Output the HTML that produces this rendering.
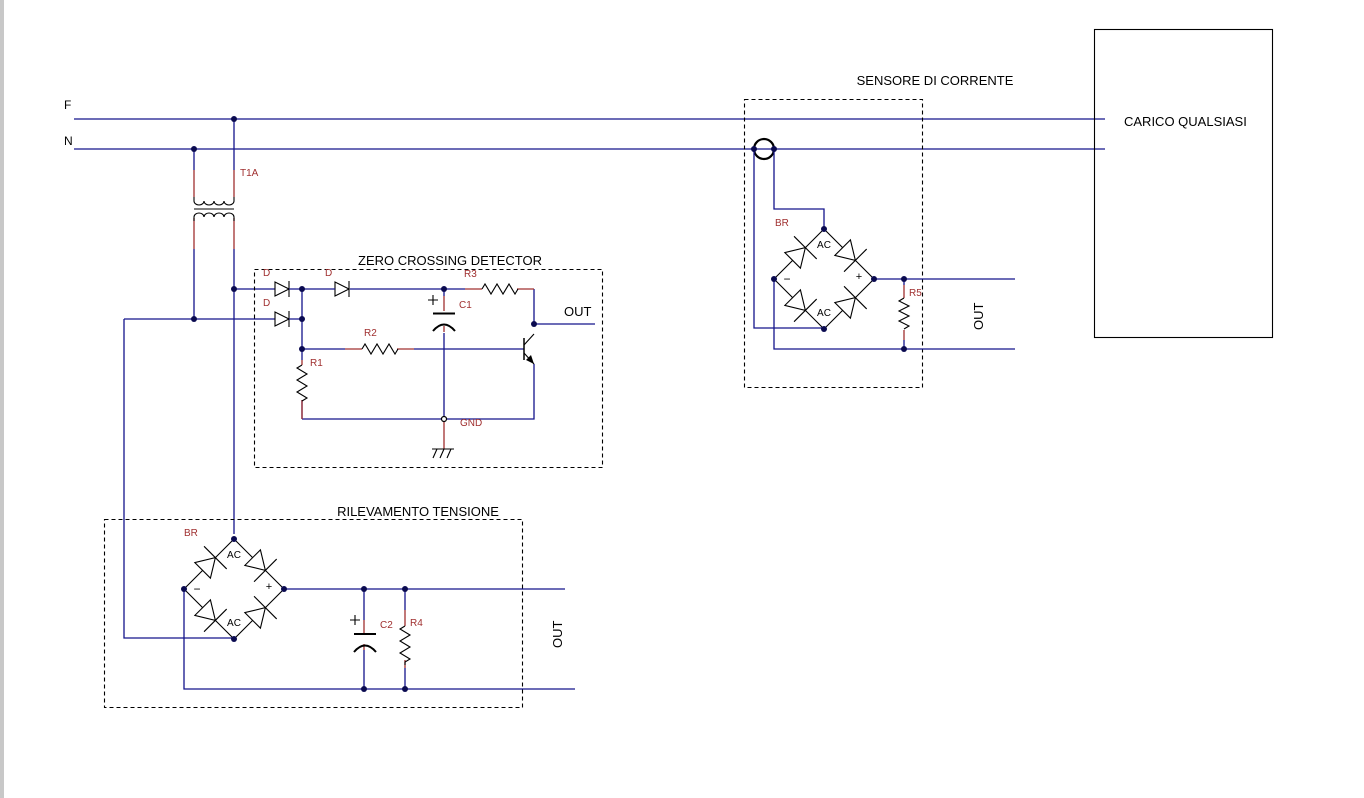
<!DOCTYPE html>
<html><head><meta charset="utf-8"><style>
html,body{margin:0;padding:0;background:#fff;}
svg{display:block;}
text{font-family:"Liberation Sans",Arial,sans-serif;}
.w{stroke:#14148c;stroke-width:1.3;fill:none;}
.r{stroke:#a03030;stroke-width:1.3;fill:none;}
.k{stroke:#000;stroke-width:1.1;fill:none;}
.d{stroke:#000;stroke-width:1.1;fill:none;stroke-dasharray:4,3;}
.lbl{fill:#a03030;font-size:10px;}
.t{fill:#000;font-size:13px;}
.dot{fill:#0a0a50;}
</style></head><body>
<svg width="1364" height="798" viewBox="0 0 1364 798" xmlns="http://www.w3.org/2000/svg">
<defs>
<g id="dio"><polygon points="-9,-11 -9,11 9,0" fill="#fff" stroke="#000" stroke-width="1.1"/><line x1="9" y1="-16" x2="9" y2="16" stroke="#000" stroke-width="1.1"/></g>
<g id="hd"><polygon points="-7,-7 -7,7 7,0" fill="#fff" stroke="#000" stroke-width="1.1"/><line x1="7" y1="-8" x2="7" y2="8" stroke="#000" stroke-width="1.1"/></g>
<g id="bridge">
<path class="k" d="M0,-50 L50,0 L0,50 L-50,0 Z"/>
<use href="#dio" transform="translate(-25,-25) rotate(-45)"/>
<use href="#dio" transform="translate(25,-25) rotate(45)"/>
<use href="#dio" transform="translate(-25,25) rotate(45)"/>
<use href="#dio" transform="translate(25,25) rotate(-45)"/>
<text x="0" y="-31" font-size="10" text-anchor="middle" fill="#000">AC</text>
<text x="0" y="37" font-size="10" text-anchor="middle" fill="#000">AC</text>
<text x="-37" y="4" font-size="12" text-anchor="middle" fill="#000">−</text>
<text x="35" y="1" font-size="11" text-anchor="middle" fill="#000">+</text>
</g>
</defs>
<rect x="0" y="0" width="4" height="798" fill="#c8c8c8"/>

<text x="64" y="109" class="t" style="font-size:12px">F</text>
<text x="64" y="145" class="t" style="font-size:12px">N</text>
<line class="w" x1="74" y1="119" x2="1105" y2="119"/>
<line class="w" x1="74" y1="149" x2="1105" y2="149"/>

<rect x="1094.5" y="29.5" width="178" height="308" class="k"/>
<text x="1124" y="126" class="t">CARICO QUALSIASI</text>

<path class="w" d="M194,149 V170 M234,119 V170"/>
<path class="r" d="M194,170 V197 M234,170 V197 M194,218 V249 M234,218 V249"/>
<path class="k" d="M194,197 v4 a5,4 0 0 0 10,0 a5,4 0 0 0 10,0 a5,4 0 0 0 10,0 a5,4 0 0 0 10,0 v-4"/>
<line class="k" x1="194" y1="209" x2="234" y2="209"/>
<path class="k" d="M194,221 v-4 a5,4 0 0 1 10,0 a5,4 0 0 1 10,0 a5,4 0 0 1 10,0 a5,4 0 0 1 10,0 v4"/>
<text x="240" y="176" class="lbl">T1A</text>
<path class="w" d="M194,249 V319 M234,249 V534 M124,319 H275 M124,319 V638 H234 M234,289 H275"/>
<circle class="dot" cx="234" cy="119" r="3"/><circle class="dot" cx="194" cy="149" r="3"/>
<circle class="dot" cx="234" cy="289" r="3"/><circle class="dot" cx="194" cy="319" r="3"/>

<rect x="254.5" y="269.5" width="348" height="198" class="d"/>
<text x="450" y="265" class="t" text-anchor="middle">ZERO CROSSING DETECTOR</text>
<text x="263" y="276" class="lbl">D</text><text x="325" y="276" class="lbl">D</text><text x="263" y="306" class="lbl">D</text>
<use href="#hd" transform="translate(282,289)"/>
<use href="#hd" transform="translate(282,319)"/>
<use href="#hd" transform="translate(342,289)"/>
<path class="w" d="M289,289 H335 M350,289 H465 M289,319 H302 M302,289 V349 M302,349 H345 M414,349 H524 M302,349 V360 M444,289 V296 M444,333 V419 M534,289 V324 H595 M534,364 V419 H302 M302,400 V419"/>
<path class="r" d="M465,289 H482 M517,289 H534 M345,349 H362 M397,349 H414 M302,360 V365 M302,400 V419 M444,296 V311 M444,326 V332 M444,419 V449"/>
<path class="k" d="M482,289 l3,-5 6,10 6,-10 6,10 6,-10 6,10 3,-5"/>
<path class="k" d="M362,349 l3,-5 6,10 6,-10 6,10 6,-10 6,10 3,-5"/>
<path class="k" d="M302,365 l-5,3 10,6 -10,6 10,6 -10,6 10,6 -5,3"/>
<line x1="433" y1="313.5" x2="455" y2="313.5" stroke="#000" stroke-width="2"/>
<path d="M433,331 Q444,318 455,331" stroke="#000" stroke-width="2" fill="none"/>
<path class="k" d="M428,300 h10 M433,295 v10"/>
<text x="459" y="308" class="lbl">C1</text>
<text x="464" y="277" class="lbl">R3</text>
<text x="364" y="336" class="lbl">R2</text>
<text x="310" y="366" class="lbl">R1</text>
<text x="460" y="426" class="lbl">GND</text>
<path class="k" d="M432,449 H454 M437,449 l-4,9 M444,449 l-4,9 M451,449 l-4,9"/>
<line x1="524" y1="338" x2="524" y2="360" stroke="#000" stroke-width="1.5"/>
<path class="k" d="M524,345 L534,334 M524,353 L534,364"/>
<polygon points="534,364 526,360 531,355" fill="#000"/>
<text x="564" y="316" class="t">OUT</text>
<circle class="dot" cx="302" cy="289" r="3"/><circle class="dot" cx="302" cy="319" r="3"/>
<circle class="dot" cx="302" cy="349" r="3"/><circle class="dot" cx="444" cy="289" r="3"/>
<circle class="dot" cx="534" cy="324" r="3"/>
<circle cx="444" cy="419" r="2.5" fill="#fff" stroke="#000" stroke-width="1.2"/>

<rect x="104.5" y="519.5" width="418" height="188" class="d"/>
<text x="418" y="516" class="t" text-anchor="middle">RILEVAMENTO TENSIONE</text>
<text x="184" y="536" class="lbl">BR</text>
<use href="#bridge" transform="translate(234,589)"/>
<path class="w" d="M284,589 H565 M184,589 V689 H575 M364,589 V620 M364,650 V689 M405,589 V610 M405,668 V689"/>
<path class="r" d="M364,620 V633 M364,644 V650 M405,610 V626 M405,660 V668"/>
<line x1="354" y1="634" x2="376" y2="634" stroke="#000" stroke-width="2"/>
<path d="M354,652 Q365,639 376,652" stroke="#000" stroke-width="2" fill="none"/>
<path class="k" d="M350,620 h10 M355,615 v10"/>
<path class="k" d="M405,626 l-5,3 10,6 -10,6 10,6 -10,6 10,6 -5,3 v3"/>
<text x="380" y="628" class="lbl">C2</text>
<text x="410" y="626" class="lbl">R4</text>
<text transform="translate(562,648) rotate(-90)" class="t">OUT</text>
<circle class="dot" cx="234" cy="539" r="3"/><circle class="dot" cx="234" cy="639" r="3"/>
<circle class="dot" cx="184" cy="589" r="3"/><circle class="dot" cx="284" cy="589" r="3"/>
<circle class="dot" cx="364" cy="589" r="3"/><circle class="dot" cx="405" cy="589" r="3"/>
<circle class="dot" cx="364" cy="689" r="3"/><circle class="dot" cx="405" cy="689" r="3"/>

<rect x="744.5" y="99.5" width="178" height="288" class="d"/>
<text x="935" y="85" class="t" text-anchor="middle">SENSORE DI CORRENTE</text>
<circle cx="764" cy="149" r="10" fill="none" stroke="#000" stroke-width="2.2"/>
<path class="w" d="M754,149 V328 H824 M774,149 V209 H824 V229 M774,279 V349 H1015 M874,279 H1015 M904,279 V285 M904,340 V349"/>
<path class="r" d="M904,285 V298 M904,330 V340"/>
<path class="k" d="M904,298 l-5,3 10,5 -10,5 10,5 -10,5 10,5 -5,3"/>
<use href="#bridge" transform="translate(824,279)"/>
<text x="775" y="226" class="lbl">BR</text>
<text x="909" y="296" class="lbl">R5</text>
<text transform="translate(983,330) rotate(-90)" class="t">OUT</text>
<circle class="dot" cx="754" cy="149" r="3"/><circle class="dot" cx="774" cy="149" r="3"/>
<circle class="dot" cx="824" cy="229" r="3"/><circle class="dot" cx="824" cy="329" r="3"/>
<circle class="dot" cx="774" cy="279" r="3"/><circle class="dot" cx="874" cy="279" r="3"/>
<circle class="dot" cx="904" cy="279" r="3"/><circle class="dot" cx="904" cy="349" r="3"/>
</svg>
</body></html>
